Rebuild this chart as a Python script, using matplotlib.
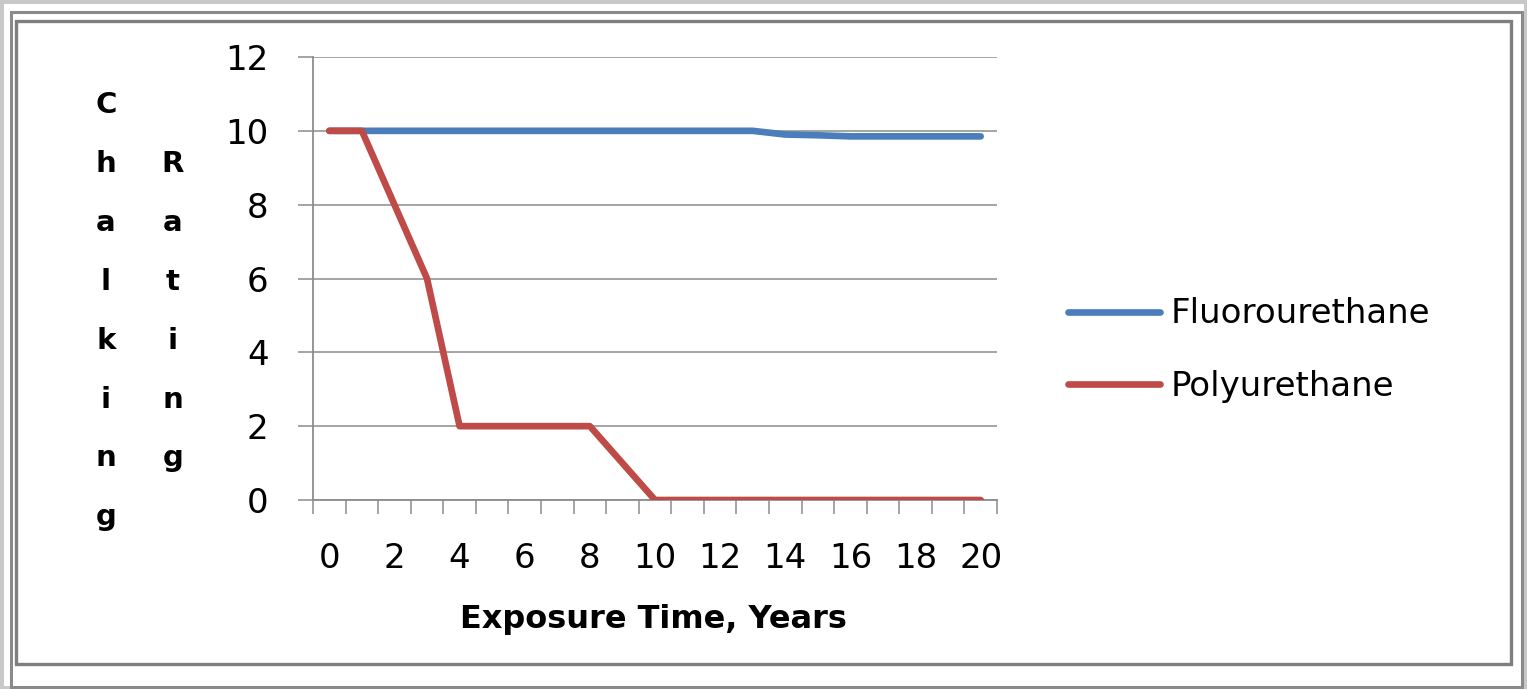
import numpy as np
import matplotlib.pyplot as plt
from matplotlib.patches import Rectangle
from matplotlib.ticker import MultipleLocator

W, H = 1527, 689

years = list(range(21))
fluoro = [10, 10, 10, 10, 10, 10, 10, 10, 10, 10, 10, 10, 10, 10,
          9.9, 9.88, 9.85, 9.85, 9.85, 9.85, 9.85]
poly = [10, 10, 8, 6, 2, 2, 2, 2, 2, 1, 0, 0, 0, 0, 0, 0, 0, 0, 0, 0, 0]
series_names = ['Fluorourethane', 'Polyurethane']
x_title = 'Exposure Time, Years'
y_title_1 = 'Chalking'
y_title_2 = 'Rating'

blue = '#4a7ebb'
red = '#be4b48'
grid_col = '#8c8c8c'

plt.rcParams['font.family'] = 'DejaVu Sans'

def fx(px):
  return px / W

def fy(py):
  return 1 - py / H

fig = plt.figure(figsize=(W / 100, H / 100), dpi=100)
fig.patch.set_facecolor('white')

# frames around the chart
fig.patches.append(Rectangle((0, 0), 1, 1, transform=fig.transFigure,
                             fill=False, ec='#c8c8c8', lw=5, zorder=0))
fig.patches.append(Rectangle((fx(11), fy(687)), fx(1522) - fx(11), fy(12) - fy(687),
                             transform=fig.transFigure, fill=False, ec='#8a8a8a', lw=2.2))
fig.patches.append(Rectangle((fx(16), fy(664)), fx(1511) - fx(16), fy(21) - fy(664),
                             transform=fig.transFigure, fill=False, ec='#7f7f7f', lw=2.4))

ax = fig.add_axes([fx(313), fy(500), fx(997) - fx(313), fy(57) - fy(500)])

ax.plot(years, fluoro, color=blue, lw=4.8, solid_capstyle='round',
        solid_joinstyle='round', label=series_names[0], zorder=3)
ax.plot(years, poly, color=red, lw=4.8, solid_capstyle='round',
        solid_joinstyle='round', label=series_names[1], zorder=3)

ax.set_xlim(-0.5, 20.5)
ax.set_ylim(0, 12)
ax.yaxis.set_major_locator(MultipleLocator(2))
ax.set_xticks(years[::2])
ax.set_xticks(np.arange(-0.5, 21, 1), minor=True)
ax.grid(axis='y', color=grid_col, lw=1.1)
ax.set_axisbelow(True)

for s in ['top', 'right']:
  ax.spines[s].set_visible(False)
for s in ['left', 'bottom']:
  ax.spines[s].set_color(grid_col)
  ax.spines[s].set_linewidth(1.3)

ax.tick_params(axis='y', which='major', length=11, width=1.1, color=grid_col,
               labelsize=24.5, pad=21)
ax.tick_params(axis='x', which='major', length=0, labelsize=24.5, pad=30)
ax.tick_params(axis='x', which='minor', length=10, width=1.1, color=grid_col)

fig.text(fx(653), fy(628), x_title, ha='center', va='baseline',
         fontsize=23, fontweight='bold')

for i, ch in enumerate(y_title_1):
  fig.text(fx(106), fy(113 + 58.9 * i), ch, ha='center', va='baseline',
           fontsize=21, fontweight='bold')
for i, ch in enumerate(y_title_2):
  fig.text(fx(173), fy(113 + 58.9 * (i + 1)), ch, ha='center', va='baseline',
           fontsize=21, fontweight='bold')

fig.legend(loc='center left', bbox_to_anchor=(fx(1068), fy(350)), frameon=False,
           fontsize=24.5, handlelength=2.7, handletextpad=0.33, labelspacing=1.15,
           borderpad=0, borderaxespad=0)

fig.savefig('out.png', dpi=100)
